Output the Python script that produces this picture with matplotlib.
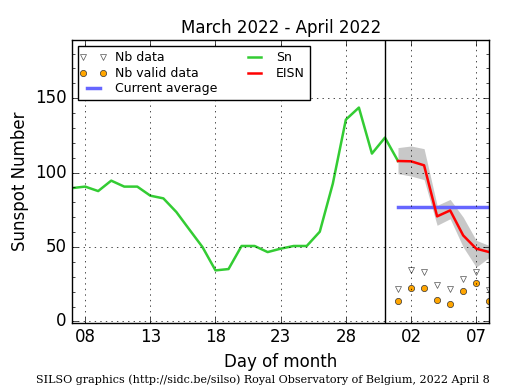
import numpy as np
import matplotlib
matplotlib.use("Agg")
import matplotlib.pyplot as plt
from matplotlib.legend_handler import HandlerLine2D

# days counted from March 1 (day 32 = April 1)
sn_days = list(range(7, 33))
sn_vals = [89.6, 90.6, 87.6, 94.6, 90.6, 90.6, 84.5, 82.7, 73.5, 61.7, 50.0, 34.3, 35.2,
           50.7, 50.7, 46.6, 48.9, 50.7, 50.7, 60.3, 92.6, 135.6, 143.7, 112.8, 123.5, 107.8]

eisn_days = [32, 33, 34, 35, 36, 37, 38, 39]
eisn_vals = [107.8, 107.6, 104.9, 70.6, 74.6, 57.8, 48.9, 46.6]
eisn_hi = [116.8, 117.9, 116.1, 78.0, 82.0, 70.1, 54.5, 51.0]
eisn_lo = [99.3, 97.7, 95.3, 64.6, 69.0, 50.0, 36.5, 43.0]

nb_data = [22.0, 34.8, 33.2, 24.2, 22.0, 28.7, 33.2, 20.8]
nb_valid = [13.4, 22.4, 22.4, 14.3, 11.6, 20.2, 25.8, 13.4]
current_avg = 77.1

tick_pos = [8, 13, 18, 23, 28, 33, 38]
tick_lab = ["08", "13", "18", "23", "28", "02", "07"]

plt.style.use("classic")
fig = plt.figure(figsize=(5.15, 3.9), dpi=100)
ax = fig.add_axes([0.140, 0.172, 0.810, 0.725])

ax.fill_between(eisn_days, eisn_lo, eisn_hi, color="#bbbbbb", alpha=0.8, linewidth=0)
h1, = ax.plot(eisn_days, nb_data, linestyle="none", marker="v", markersize=4.5,
              markerfacecolor="white", markeredgecolor="#555555", label="Nb data")
h2, = ax.plot(eisn_days, nb_valid, linestyle="none", marker="o", markersize=4.5,
              markerfacecolor="orange", markeredgecolor="#333333", label="Nb valid data")
ax.plot([eisn_days[0], eisn_days[-1]], [current_avg, current_avg], color="#6666ff",
        linewidth=2.5, label="Current average")
ax.plot(sn_days, sn_vals, color="#33cc33", linewidth=1.8, label="Sn")
ax.plot(eisn_days, eisn_vals, color="red", linewidth=1.8, label="EISN")
ax.axvline(31, color="black", linewidth=1)

ax.set_xlim(7, 39)
ax.set_ylim(-1, 189)
ax.set_xticks(tick_pos)
ax.set_xticklabels(tick_lab)
ax.set_yticks([0, 50, 100, 150])
ax.set_yticks(np.arange(0, 190, 10), minor=True)
ax.tick_params(labelsize=12)
ax.grid(True, which="major", linestyle=":", color="black")

ax.set_title("March 2022 - April 2022", fontsize=12)
ax.set_xlabel("Day of month", fontsize=12)
ax.set_ylabel("Sunspot Number", fontsize=12, labelpad=4)

ax.legend(loc="upper left", ncol=2, numpoints=2, fontsize=9, fancybox=False,
          framealpha=1, handlelength=1.6, handletextpad=0.9, labelspacing=0.2,
          columnspacing=2.2, borderpad=0.4, borderaxespad=0.5,
          handler_map={h1: HandlerLine2D(marker_pad=0), h2: HandlerLine2D(marker_pad=0)})

fig.text(0.51, 0.017, "SILSO graphics (http://sidc.be/silso) Royal Observatory of Belgium, 2022 April 8",
         ha="center", fontsize=8, family="DejaVu Serif")

fig.savefig("out.png", dpi=100)
